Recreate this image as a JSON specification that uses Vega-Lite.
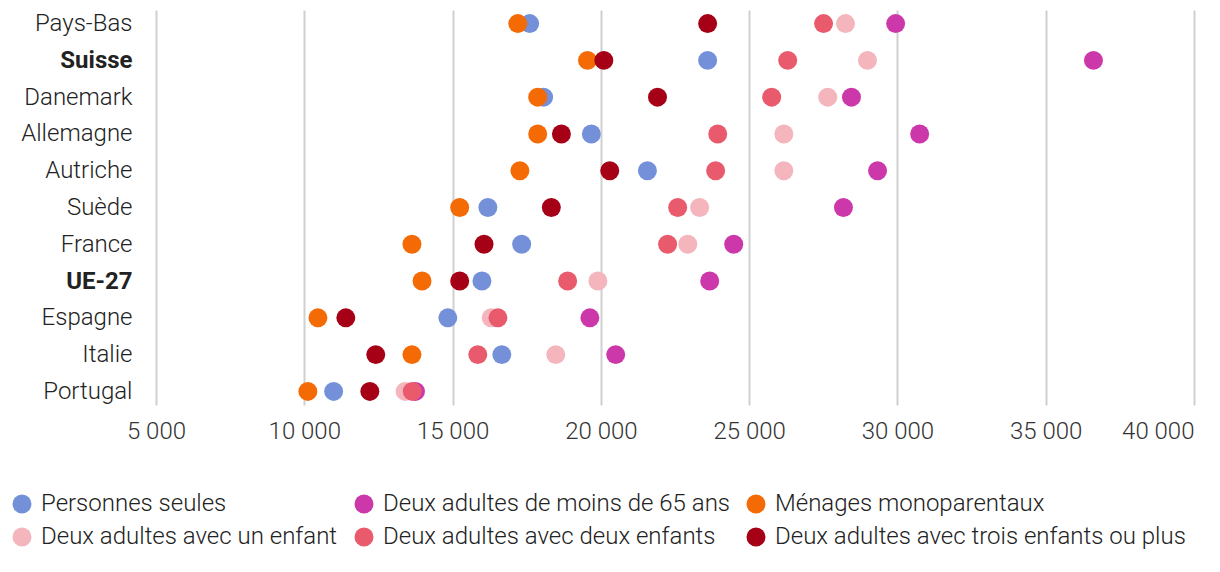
{
  "$schema": "https://vega.github.io/schema/vega-lite/v6.json",
  "autosize": {"type": "none"},
  "padding": {"left": 156, "top": 10, "right": 26, "bottom": 167},
  "width": 1038,
  "height": 395,
  "background": "white",
  "config": {
    "font": "Roboto",
    "view": {"stroke": null},
    "legend": {"gridAlign": "none"}
  },
  "data": {
    "values": [
      {"pays": "Pays-Bas", "type": "Personnes seules", "revenu": 17600},
      {"pays": "Suisse", "type": "Personnes seules", "revenu": 23600},
      {"pays": "Danemark", "type": "Personnes seules", "revenu": 18070},
      {"pays": "Allemagne", "type": "Personnes seules", "revenu": 19680},
      {"pays": "Autriche", "type": "Personnes seules", "revenu": 21570},
      {"pays": "Suède", "type": "Personnes seules", "revenu": 16190},
      {"pays": "France", "type": "Personnes seules", "revenu": 17330},
      {"pays": "UE-27", "type": "Personnes seules", "revenu": 15990},
      {"pays": "Espagne", "type": "Personnes seules", "revenu": 14840},
      {"pays": "Italie", "type": "Personnes seules", "revenu": 16660},
      {"pays": "Portugal", "type": "Personnes seules", "revenu": 10990},

      {"pays": "Pays-Bas", "type": "Deux adultes de moins de 65 ans", "revenu": 29940},
      {"pays": "Suisse", "type": "Deux adultes de moins de 65 ans", "revenu": 36610},
      {"pays": "Danemark", "type": "Deux adultes de moins de 65 ans", "revenu": 28450},
      {"pays": "Allemagne", "type": "Deux adultes de moins de 65 ans", "revenu": 30750},
      {"pays": "Autriche", "type": "Deux adultes de moins de 65 ans", "revenu": 29330},
      {"pays": "Suède", "type": "Deux adultes de moins de 65 ans", "revenu": 28180},
      {"pays": "France", "type": "Deux adultes de moins de 65 ans", "revenu": 24480},
      {"pays": "UE-27", "type": "Deux adultes de moins de 65 ans", "revenu": 23670},
      {"pays": "Espagne", "type": "Deux adultes de moins de 65 ans", "revenu": 19630},
      {"pays": "Italie", "type": "Deux adultes de moins de 65 ans", "revenu": 20500},
      {"pays": "Portugal", "type": "Deux adultes de moins de 65 ans", "revenu": 13750},

      {"pays": "Pays-Bas", "type": "Ménages monoparentaux", "revenu": 17200},
      {"pays": "Suisse", "type": "Ménages monoparentaux", "revenu": 19550},
      {"pays": "Danemark", "type": "Ménages monoparentaux", "revenu": 17870},
      {"pays": "Allemagne", "type": "Ménages monoparentaux", "revenu": 17870},
      {"pays": "Autriche", "type": "Ménages monoparentaux", "revenu": 17270},
      {"pays": "Suède", "type": "Ménages monoparentaux", "revenu": 15240},
      {"pays": "France", "type": "Ménages monoparentaux", "revenu": 13630},
      {"pays": "UE-27", "type": "Ménages monoparentaux", "revenu": 13970},
      {"pays": "Espagne", "type": "Ménages monoparentaux", "revenu": 10460},
      {"pays": "Italie", "type": "Ménages monoparentaux", "revenu": 13630},
      {"pays": "Portugal", "type": "Ménages monoparentaux", "revenu": 10120},

      {"pays": "Pays-Bas", "type": "Deux adultes avec un enfant", "revenu": 28250},
      {"pays": "Suisse", "type": "Deux adultes avec un enfant", "revenu": 28990},
      {"pays": "Danemark", "type": "Deux adultes avec un enfant", "revenu": 27650},
      {"pays": "Allemagne", "type": "Deux adultes avec un enfant", "revenu": 26170},
      {"pays": "Autriche", "type": "Deux adultes avec un enfant", "revenu": 26170},
      {"pays": "Suède", "type": "Deux adultes avec un enfant", "revenu": 23330},
      {"pays": "France", "type": "Deux adultes avec un enfant", "revenu": 22930},
      {"pays": "UE-27", "type": "Deux adultes avec un enfant", "revenu": 19900},
      {"pays": "Espagne", "type": "Deux adultes avec un enfant", "revenu": 16300},
      {"pays": "Italie", "type": "Deux adultes avec un enfant", "revenu": 18480},
      {"pays": "Portugal", "type": "Deux adultes avec un enfant", "revenu": 13400},

      {"pays": "Pays-Bas", "type": "Deux adultes avec deux enfants", "revenu": 27510},
      {"pays": "Suisse", "type": "Deux adultes avec deux enfants", "revenu": 26300},
      {"pays": "Danemark", "type": "Deux adultes avec deux enfants", "revenu": 25760},
      {"pays": "Allemagne", "type": "Deux adultes avec deux enfants", "revenu": 23940},
      {"pays": "Autriche", "type": "Deux adultes avec deux enfants", "revenu": 23870},
      {"pays": "Suède", "type": "Deux adultes avec deux enfants", "revenu": 22590},
      {"pays": "France", "type": "Deux adultes avec deux enfants", "revenu": 22250},
      {"pays": "UE-27", "type": "Deux adultes avec deux enfants", "revenu": 18880},
      {"pays": "Espagne", "type": "Deux adultes avec deux enfants", "revenu": 16530},
      {"pays": "Italie", "type": "Deux adultes avec deux enfants", "revenu": 15850},
      {"pays": "Portugal", "type": "Deux adultes avec deux enfants", "revenu": 13640},

      {"pays": "Pays-Bas", "type": "Deux adultes avec trois enfants ou plus", "revenu": 23600},
      {"pays": "Suisse", "type": "Deux adultes avec trois enfants ou plus", "revenu": 20100},
      {"pays": "Danemark", "type": "Deux adultes avec trois enfants ou plus", "revenu": 21910},
      {"pays": "Allemagne", "type": "Deux adultes avec trois enfants ou plus", "revenu": 18670},
      {"pays": "Autriche", "type": "Deux adultes avec trois enfants ou plus", "revenu": 20300},
      {"pays": "Suède", "type": "Deux adultes avec trois enfants ou plus", "revenu": 18330},
      {"pays": "France", "type": "Deux adultes avec trois enfants ou plus", "revenu": 16060},
      {"pays": "UE-27", "type": "Deux adultes avec trois enfants ou plus", "revenu": 15240},
      {"pays": "Espagne", "type": "Deux adultes avec trois enfants ou plus", "revenu": 11400},
      {"pays": "Italie", "type": "Deux adultes avec trois enfants ou plus", "revenu": 12410},
      {"pays": "Portugal", "type": "Deux adultes avec trois enfants ou plus", "revenu": 12210}
    ]
  },
  "mark": {"type": "point", "filled": true, "opacity": 1, "size": 360, "shape": "circle", "strokeWidth": 0},
  "encoding": {
    "x": {
      "field": "revenu",
      "type": "quantitative",
      "scale": {"domain": [5000, 40000], "nice": false, "zero": false},
      "axis": {
        "title": null,
        "values": [5000, 10000, 15000, 20000, 25000, 30000, 35000, 40000],
        "labelExpr": "replace(format(datum.value, ','), ',', ' ')",
        "labelFont": "Roboto",
        "labelFontSize": 24,
        "labelFontWeight": 300,
        "labelColor": "#333333",
        "labelPadding": 14,
        "labelAlign": {"condition": {"test": "datum.value === 40000", "value": "right"}, "value": "center"},
        "ticks": false,
        "domain": false,
        "grid": true,
        "gridColor": "#d0d0d0",
        "gridWidth": 2
      }
    },
    "y": {
      "field": "pays",
      "type": "nominal",
      "sort": ["Pays-Bas", "Suisse", "Danemark", "Allemagne", "Autriche", "Suède", "France", "UE-27", "Espagne", "Italie", "Portugal"],
      "scale": {"type": "point", "padding": 0.37},
      "axis": {
        "title": null,
        "ticks": false,
        "domain": false,
        "grid": false,
        "labelFont": "Roboto",
        "labelFontSize": 24,
        "labelColor": "#222222",
        "labelPadding": 24,
        "labelFontWeight": {"condition": {"test": "datum.value === 'Suisse' || datum.value === 'UE-27'", "value": "bold"}, "value": 300}
      }
    },
    "color": {
      "field": "type",
      "type": "nominal",
      "scale": {
        "domain": ["Personnes seules", "Deux adultes de moins de 65 ans", "Ménages monoparentaux", "Deux adultes avec un enfant", "Deux adultes avec deux enfants", "Deux adultes avec trois enfants ou plus"],
        "range": ["#7390d8", "#cc38aa", "#f46a05", "#f4b5bc", "#e85a6c", "#a50016"]
      },
      "legend": {
        "title": null,
        "orient": "none",
        "legendX": -146,
        "legendY": 482,
        "direction": "horizontal",
        "columns": 3,
        "gridAlign": "none",
        "symbolType": "circle",
        "symbolSize": 360,
        "symbolStrokeWidth": 0,
        "symbolOpacity": 1,
        "labelFont": "Roboto",
        "labelFontSize": 24,
        "labelFontWeight": 300,
        "labelColor": "#222222",
        "labelOffset": 7,
        "labelLimit": 600,
        "columnPadding": 14,
        "rowPadding": 9
      }
    }
  }
}
